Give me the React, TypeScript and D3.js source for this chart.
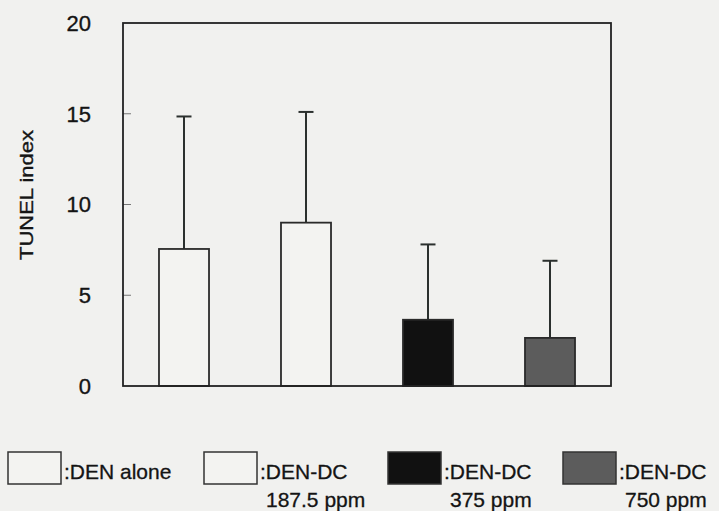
import * as d3 from "d3";

// values
const groups = ["DEN alone", "DEN-DC 187.5 ppm", "DEN-DC 375 ppm", "DEN-DC 750 ppm"];
const means = [7.55, 9.0, 3.65, 2.65];
const sds = [7.3, 6.1, 4.15, 4.25];
const fills = ["#f3f3f1", "#f3f3f1", "#111111", "#5c5c5c"];
const yTicks = [0, 5, 10, 15, 20];
const legendLine1 = [":DEN alone", ":DEN-DC", ":DEN-DC", ":DEN-DC"];
const legendLine2 = ["", "187.5 ppm", "375 ppm", "750 ppm"];
const legendX = [8, 204, 388, 563];

const W = 719;
const H = 511;
const plot = { left: 123, right: 611, top: 23, bottom: 386 };
const font = "'Liberation Sans', Arial, sans-serif";
const bg = "#f1f1ef";
const ink = "#141414";

export default function App() {
  const x = d3
    .scaleBand<string>()
    .domain(groups)
    .range([plot.left, plot.right])
    .paddingInner(0.59)
    .paddingOuter(0.295);
  const y = d3.scaleLinear().domain([0, 20]).range([plot.bottom, plot.top]);
  const capW = 15;

  return (
    <svg
      width={W}
      height={H}
      style={{ position: "absolute", left: 0, top: 0, background: bg }}
      fontFamily={font}
    >
      <rect x={0} y={0} width={W} height={H} fill={bg} />

      {/* tick marks inside the frame */}
      {yTicks.slice(1, -1).map((t) => (
        <line key={t} x1={plot.left} x2={plot.left + 8} y1={y(t)} y2={y(t)} stroke="#777" strokeWidth={1} />
      ))}
      <g fill={ink} stroke={ink} strokeWidth={0.35}>
        {yTicks.map((t) => (
          <text key={t} x={91} y={y(t)} dy="0.36em" textAnchor="end" fontSize={22}>
            {t}
          </text>
        ))}

        <text
          transform={`translate(33,195) rotate(-90)`}
          textAnchor="middle"
          fontSize={19}
          textLength={130}
          lengthAdjust="spacingAndGlyphs"
        >
          TUNEL index
        </text>
      </g>

      {/* error bars (upper only) */}
      {groups.map((g, i) => {
        const cx = (x(g) as number) + x.bandwidth() / 2;
        const top = y(means[i] + sds[i]);
        return (
          <g key={g} stroke="#2b302e" strokeWidth={2}>
            <line x1={cx} x2={cx} y1={y(means[i])} y2={top} />
            <line x1={cx - capW / 2} x2={cx + capW / 2} y1={top} y2={top} />
          </g>
        );
      })}

      {/* bars */}
      {groups.map((g, i) => (
        <rect
          key={g}
          x={x(g)}
          y={y(means[i])}
          width={x.bandwidth()}
          height={y(0) - y(means[i])}
          fill={fills[i]}
          stroke="#2a2a2a"
          strokeWidth={1.8}
        />
      ))}

      {/* frame */}
      <rect
        x={plot.left}
        y={plot.top}
        width={plot.right - plot.left}
        height={plot.bottom - plot.top}
        fill="none"
        stroke="#222"
        strokeWidth={1.8}
      />

      {/* legend */}
      {groups.map((g, i) => (
        <g key={g}>
          <rect x={legendX[i]} y={452} width={53} height={32} fill={fills[i]} stroke="#333" strokeWidth={1.5} />
          <g fill={ink} stroke={ink} strokeWidth={0.3} fontSize={21}>
            <text x={legendX[i] + 56} y={479}>
              {legendLine1[i]}
            </text>
            {legendLine2[i] && (
              <text x={legendX[i] + 62} y={507}>
                {legendLine2[i]}
              </text>
            )}
          </g>
        </g>
      ))}
    </svg>
  );
}
